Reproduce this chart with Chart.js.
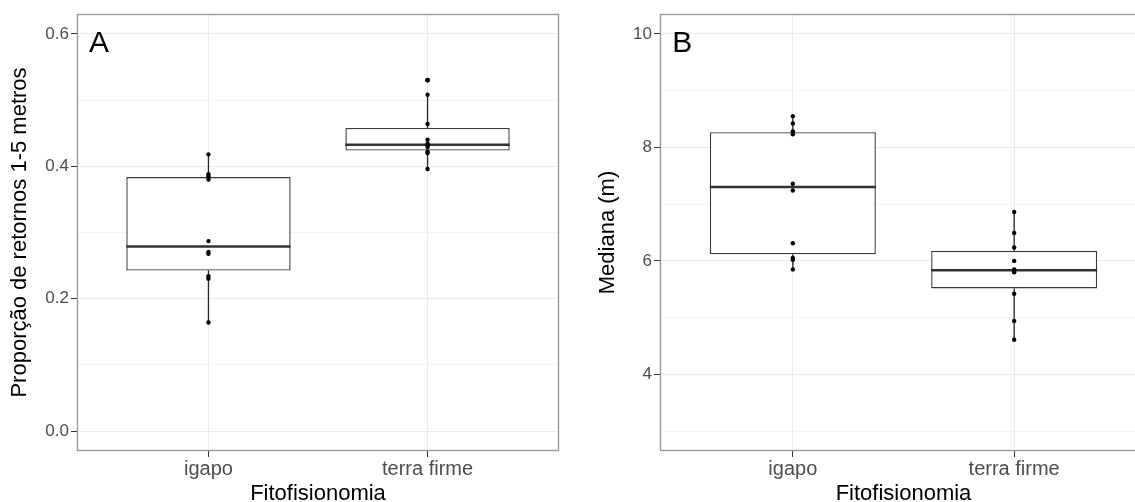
<!DOCTYPE html>
<html>
<head>
<meta charset="utf-8">
<script src="https://cdn.jsdelivr.net/npm/chart.js@4.4.1/dist/chart.umd.min.js"></script>
<style>
  html, body { margin: 0; padding: 0; background: #fff; overflow: hidden; }
  #wrap { position: relative; width: 1135px; height: 502px; overflow: hidden; }
  #panelA { position: absolute; left: 0; top: 0; }
  #panelB { position: absolute; left: 575px; top: 0; }
</style>
</head>
<body>
<div id="wrap">
  <canvas id="panelA" width="575" height="512"></canvas>
  <canvas id="panelB" width="600" height="512"></canvas>
</div>
<script>
// groups on the x axis
const categories = ["igapo", "terra firme"];

// panel A: proporção de retornos entre 1 e 5 m, one value per plot
const propIgapo = [0.164, 0.230, 0.234, 0.268, 0.2705, 0.287, 0.380, 0.385, 0.388, 0.418];
const propTerraFirme = [0.396, 0.420, 0.422, 0.429, 0.431, 0.434, 0.440, 0.464, 0.508, 0.530];

// panel B: mediana da altura (m)
const medIgapo = [5.85, 6.02, 6.05, 6.31, 7.24, 7.36, 8.23, 8.28, 8.42, 8.55];
const medTerraFirme = [4.61, 4.94, 5.42, 5.80, 5.82, 5.85, 6.00, 6.235, 6.49, 6.86];

// axis limits and ticks
const limitsA = [0, 0.6];
const ticksA = [0, 0.2, 0.4, 0.6];
const minorA = [0.1, 0.3, 0.5];
const limitsB = [3, 10];
const ticksB = [4, 6, 8, 10];
const minorB = [3, 5, 7, 9];

const FONT = "'Liberation Sans', Arial, sans-serif";
Chart.defaults.font.family = FONT;

// type 7 quantile (R default)
function quantile(sorted, p) {
  const h = (sorted.length - 1) * p;
  const lo = Math.floor(h);
  const next = lo + 1 < sorted.length ? sorted[lo + 1] : sorted[lo];
  return sorted[lo] + (h - lo) * (next - sorted[lo]);
}

function boxStats(values) {
  const s = [...values].sort((a, b) => a - b);
  const q1 = quantile(s, 0.25), med = quantile(s, 0.5), q3 = quantile(s, 0.75);
  const iqr = q3 - q1;
  const inside = s.filter(v => v >= q1 - 1.5 * iqr && v <= q3 + 1.5 * iqr);
  const out = s.filter(v => v < q1 - 1.5 * iqr || v > q3 + 1.5 * iqr);
  return { q1, med, q3, lo: inside[0], hi: inside[inside.length - 1], out };
}

const HALF = 0.375; // half box width in category units

function buildDatasets(groups) {
  const stats = groups.map(boxStats);
  const pts = [], outliers = [], medians = [], whiskers = [], boxes = [];
  groups.forEach((vals, i) => {
    const x = i + 1;
    const b = stats[i];
    vals.forEach(v => pts.push({ x, y: v }));
    b.out.forEach(v => outliers.push({ x, y: v }));
    medians.push({ x: x - HALF, y: b.med }, { x: x + HALF, y: b.med }, { x, y: null });
    whiskers.push({ x, y: b.lo }, { x, y: b.q1 }, { x, y: null },
                  { x, y: b.q3 }, { x, y: b.hi }, { x, y: null });
    boxes.push({ x, y: [b.q1, b.q3] });
  });
  return [
    { type: 'scatter', data: pts, pointRadius: 2.2, pointBackgroundColor: '#000', pointBorderWidth: 0, order: 0 },
    { type: 'scatter', data: outliers, pointRadius: 2.4, pointBackgroundColor: '#000', pointBorderWidth: 0, order: 0 },
    { type: 'line', data: medians, borderColor: '#333', borderWidth: 2.5, pointRadius: 0, spanGaps: false, order: 1 },
    { type: 'bar', data: boxes, backgroundColor: '#fff', borderColor: '#3a3a3a', borderWidth: 1.4,
      borderSkipped: false, categoryPercentage: 1, barPercentage: 2 * HALF, order: 2 },
    { type: 'line', data: whiskers, borderColor: '#222', borderWidth: 1.3, pointRadius: 0, spanGaps: false, order: 3 }
  ];
}

// frame around the panel and the panel letter
const framePlugin = {
  id: 'frame',
  afterDraw(chart, args, opts) {
    const { ctx, chartArea: a } = chart;
    ctx.save();
    ctx.strokeStyle = '#999';
    ctx.lineWidth = 1.4;
    ctx.strokeRect(a.left + 0.5, a.top + 0.5, a.right - a.left - 1, a.bottom - a.top - 1);
    ctx.fillStyle = '#000';
    ctx.font = '30px ' + FONT;
    ctx.textAlign = 'center';
    ctx.textBaseline = 'alphabetic';
    ctx.fillText(opts.letter, chart.scales.x.getPixelForValue(0.5), a.top + 38);
    ctx.restore();
  }
};

function makePanel(id, groups, p) {
  const pad = 0.05 * (p.limits[1] - p.limits[0]);
  const allTicks = [...p.minor, ...p.major].sort((a, b) => a - b);
  const isMajor = v => p.major.includes(v);
  new Chart(document.getElementById(id), {
    type: 'scatter',
    data: { datasets: buildDatasets(groups) },
    plugins: [framePlugin],
    options: {
      responsive: false,
      animation: false,
      events: [],
      layout: { padding: { top: 14, right: p.padRight, left: 0, bottom: 0 } },
      plugins: {
        legend: { display: false },
        tooltip: { enabled: false },
        frame: { letter: p.letter }
      },
      scales: {
        x: {
          type: 'linear',
          min: 1 - 0.6,
          max: categories.length + 0.6,
          offset: false,
          afterBuildTicks: s => { s.ticks = categories.map((c, i) => ({ value: i + 1 })); },
          afterFit: s => { s.height = 61; },
          ticks: {
            autoSkip: false, maxRotation: 0, padding: 0,
            color: '#4d4d4d', font: { size: 20 },
            callback: v => categories[v - 1]
          },
          grid: { offset: false, color: '#ebebeb', lineWidth: 1, tickLength: 6, tickColor: '#333', tickWidth: 1 },
          border: { display: false },
          title: {
            display: true, text: 'Fitofisionomia', color: '#000',
            font: { size: 22 }, padding: { top: 0, bottom: 5 }
          }
        },
        y: {
          min: p.limits[0] - pad,
          max: p.limits[1] + pad,
          afterBuildTicks: s => { s.ticks = allTicks.map(v => ({ value: v })); },
          afterFit: s => { s.width = p.axisWidth; },
          ticks: {
            autoSkip: false, padding: 2,
            color: '#4d4d4d', font: { size: 17 },
            callback: v => isMajor(v) ? v.toFixed(p.digits) : ''
          },
          grid: {
            color: c => isMajor(c.tick.value) ? '#ebebeb' : '#f4f4f4',
            lineWidth: 1,
            tickLength: 6,
            tickWidth: 1,
            tickColor: c => isMajor(c.tick.value) ? '#333' : 'rgba(0,0,0,0)'
          },
          border: { display: false },
          title: {
            display: true, text: p.title, color: '#000',
            font: { size: 22 }, padding: { top: p.titlePad, bottom: 0 }
          }
        }
      }
    }
  });
}

makePanel('panelA', [propIgapo, propTerraFirme], {
  letter: 'A', title: 'Proporção de retornos 1-5 metros',
  limits: limitsA, major: ticksA, minor: minorA, digits: 1,
  axisWidth: 77, titlePad: 7, padRight: 16
});

makePanel('panelB', [medIgapo, medTerraFirme], {
  letter: 'B', title: 'Mediana (m)',
  limits: limitsB, major: ticksB, minor: minorB, digits: 0,
  axisWidth: 85, titlePad: 20, padRight: 28
});
</script>
</body>
</html>
